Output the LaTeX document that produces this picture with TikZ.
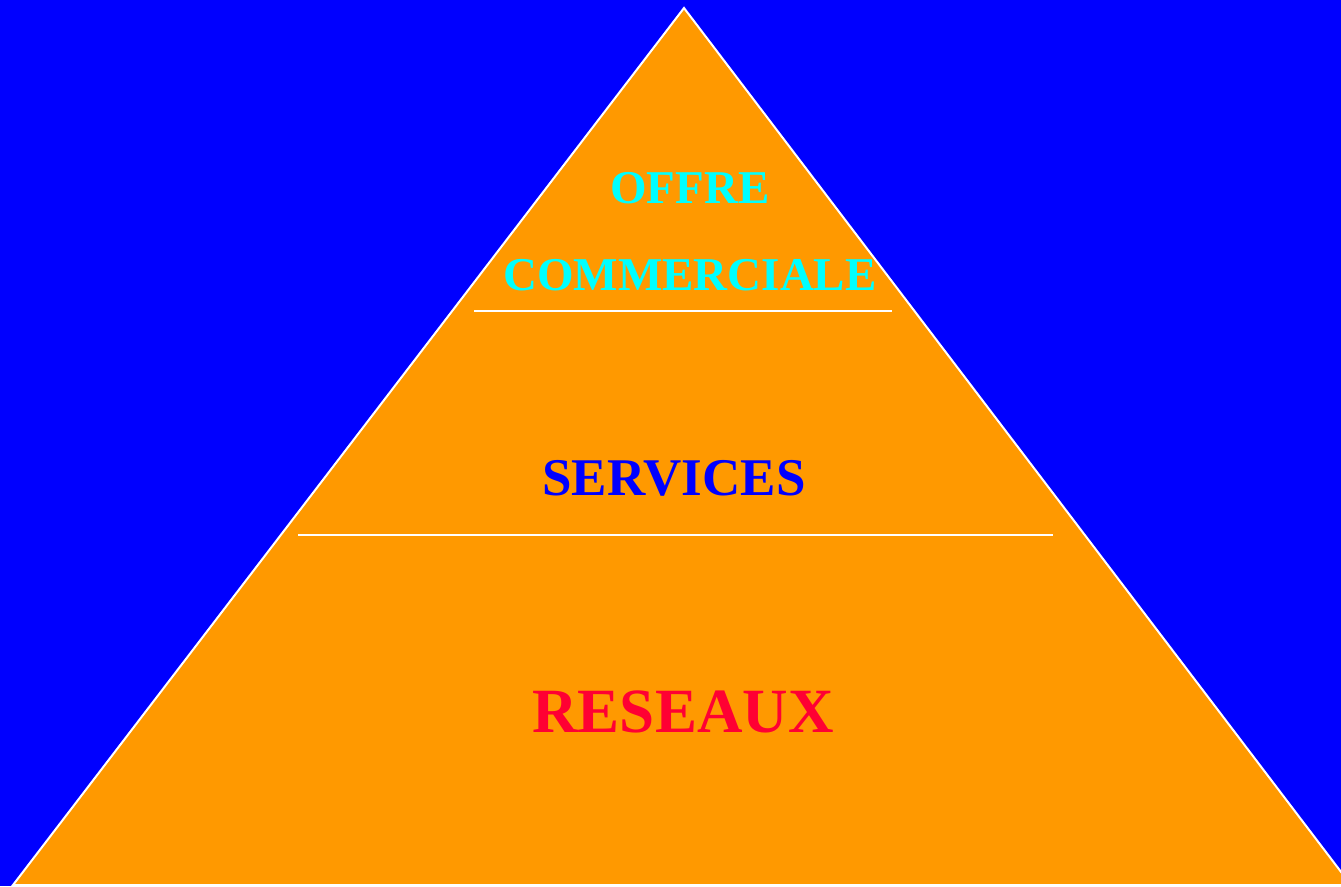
\documentclass[tikz,border=0pt]{standalone}
\usepackage{fontspec}
\setmainfont{Liberation Serif}
\definecolor{skyblue}{RGB}{0,0,255}
\definecolor{pyrorange}{RGB}{255,153,0}
\definecolor{labelcyan}{RGB}{0,255,255}
\definecolor{labelred}{RGB}{255,0,51}
\tikzset{
  divider/.style={draw=white, line width=2pt},
  tierlabel/.style={anchor=base, inner sep=0pt, font=\bfseries}
}
\begin{document}
\begin{tikzpicture}[x=1pt, y=-1pt]
  % background
  \fill[skyblue] (0,0) rectangle (1341,886);
  \useasboundingbox (0,0) rectangle (1341,886);
  % pyramid
  \begin{scope}
    \clip (0,0) rectangle (1341,886);
    \filldraw[fill=pyrorange, draw=white, line width=2pt, line join=miter]
      (684,8) -- (1351,885) -- (13,885) -- cycle;
  \end{scope}
  % tier dividers
  \draw[divider] (474,311) -- (892,311);
  \draw[divider] (298,535) -- (1053,535);
  % tier labels
  \node[tierlabel, text=labelcyan, font=\fontsize{47}{50}\selectfont\bfseries] (offre) at (690,203) {OFFRE};
  \node[tierlabel, text=labelcyan, font=\fontsize{47}{50}\selectfont\bfseries] (comm) at (690,290) {COMMERCIALE};
  \node[tierlabel, text=skyblue, font=\fontsize{53}{56}\selectfont\bfseries] (serv) at (674,495) {SERVICES};
  \node[tierlabel, text=labelred, font=\fontsize{63}{66}\selectfont\bfseries] (res) at (683,732) {RESEAUX};
\end{tikzpicture}
\end{document}
